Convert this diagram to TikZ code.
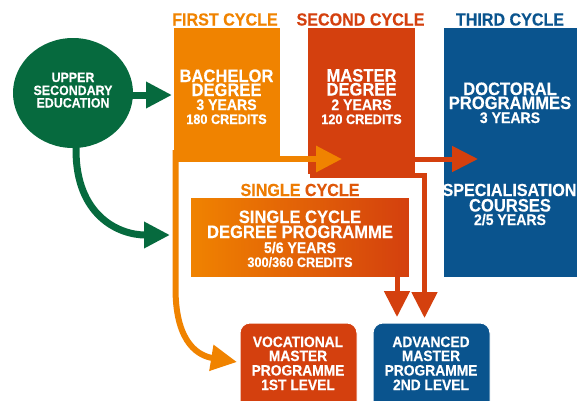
\documentclass[tikz,border=0pt]{standalone}
\usepackage{fontspec}
\setmainfont{Liberation Sans}[FakeStretch=0.92, BoldFeatures={FakeBold=0.3}]
\usetikzlibrary{arrows.meta,shapes.geometric}
\definecolor{ugreen}{RGB}{6,106,62}
\definecolor{uorange}{RGB}{240,131,0}
\definecolor{ured}{RGB}{212,64,14}
\definecolor{ublue}{RGB}{10,84,142}
\tikzset{
  box/.style={draw=white, line width=1pt, inner sep=0pt, outer sep=0pt, anchor=north west},
  wt/.style={text=white, anchor=base, inner sep=0pt},
  fbig/.style={wt, font=\fontsize{18}{18}\selectfont\bfseries},
  fmid/.style={wt, font=\fontsize{15.3}{15}\selectfont\bfseries},
  fsml/.style={wt, font=\fontsize{13.8}{14}\selectfont\bfseries},
  fcirc/.style={wt, font=\fontsize{13.5}{13}\selectfont\bfseries},
  fbot/.style={wt, font=\fontsize{15}{15}\selectfont\bfseries},
  head/.style={anchor=base, inner sep=0pt, font=\fontsize{17.5}{17}\selectfont\bfseries},
  bigtip/.style={-{Triangle[width=25pt,length=26pt]}},
  conn/.style={bigtip, line width=6pt},
  thin conn/.style={bigtip, line width=5pt, line join=miter},
}
\begin{document}
\begin{tikzpicture}[x=1pt,y=-1pt]
\useasboundingbox (0,0) rectangle (577,400);
\clip (0,0) rectangle (577,400);

% named coordinates for connector ends
\coordinate (gs1) at (73,95);
\coordinate (ge1) at (172,95);
\coordinate (gs2) at (76,130);
\coordinate (ge2) at (170,235);

% green connectors (under the circle)
\draw[conn, ugreen, line width=7pt] (gs1) -- (ge1);
\draw[conn, ugreen, line width=7pt] (gs2) -- (76,150) .. controls (76,215) and (118,235) .. (ge2);

% upper secondary education
\node[ellipse, fill=ugreen, minimum width=120pt, minimum height=110pt, inner sep=0pt] (use) at (73,93) {};
\node[fcirc] (useA) at (73,82) {UPPER};
\node[fcirc] (useB) at (73,95) {SECONDARY};
\node[fcirc] (useC) at (73,107.5) {EDUCATION};

% boxes
\node[box, fill=uorange, minimum width=107pt, minimum height=129pt] (bach) at (173,27) {};
\node[box, fill=ured, minimum width=108pt, minimum height=147pt] (mast) at (307,27) {};
\node[box, fill=ublue, minimum width=140pt, minimum height=250pt] (doct) at (443,27) {};
\node[box, left color=uorange, right color=ured, minimum width=219pt, minimum height=80pt] (sing) at (190,197) {};
\node[box, fill=ured, rounded corners=10pt, minimum width=117pt, minimum height=90pt] (voc) at (240,323) {};
\node[box, fill=ublue, rounded corners=10pt, minimum width=117pt, minimum height=90pt] (adv) at (373,323) {};

% orange connectors from the first cycle
\coordinate (os) at (175.5,150);
\coordinate (oe1) at (237,362);
\coordinate (oe2) at (342,159);
\draw[conn, uorange] (os) -- (175.5,290) .. controls (176,345) and (200,356) .. (oe1);
\draw[conn, uorange] (175.5,159) -- (oe2);

% red connectors
\coordinate (rs1) at (410,159);
\coordinate (re1) at (478,159);
\coordinate (rs2) at (310,175);
\coordinate (re2) at (424.5,318);
\coordinate (rs3) at (397,270);
\coordinate (re3) at (397,317);
\draw[thin conn, ured] (rs1) -- (re1);
\draw[thin conn, ured] (rs2) -- (424.5,175) -- (re2);
\draw[thin conn, ured] (rs3) -- (re3);

% headers
\node[head, text=uorange] (h1) at (225,25.5) {FIRST CYCLE};
\node[head, text=ured] (h2) at (360.5,25.5) {SECOND CYCLE};
\node[head, text=ublue] (h3) at (510,25.5) {THIRD CYCLE};
\node[head] (h4) at (300,196) {\textcolor{uorange!90!ured}{SINGLE} \textcolor{uorange!35!ured}{CYCLE}};

% bachelor
\node[fbig] (bA) at (226.5,82) {BACHELOR};
\node[fbig] (bB) at (226.5,96) {DEGREE};
\node[fmid] (bC) at (226.5,110) {3 YEARS};
\node[fsml] (bD) at (226.5,124) {180 CREDITS};

% master
\node[fbig] (mA) at (361.5,81.5) {MASTER};
\node[fbig] (mB) at (361.5,95.5) {DEGREE};
\node[fmid] (mC) at (361.5,110) {2 YEARS};
\node[fsml] (mD) at (361.5,124) {120 CREDITS};

% doctoral
\node[fbig] (dA) at (510,95) {DOCTORAL};
\node[fbig] (dB) at (510,109) {PROGRAMMES};
\node[fmid] (dC) at (510,123) {3 YEARS};
\node[wt, font=\fontsize{17.5}{18}\selectfont\bfseries] (sA) at (509.5,196) {SPECIALISATION};
\node[fbig] (sB) at (510,211.5) {COURSES};
\node[fmid] (sC) at (510,225) {2/5 YEARS};

% single cycle
\node[fbig] (cA) at (300,223) {SINGLE CYCLE};
\node[fbig] (cB) at (300,238) {DEGREE PROGRAMME};
\node[fmid] (cC) at (300,253) {5/6 YEARS};
\node[fsml] (cD) at (300,267) {300/360 CREDITS};

% vocational
\node[fbot] (vA) at (298,347) {VOCATIONAL};
\node[fbot] (vB) at (298,361) {MASTER};
\node[fbot] (vC) at (298,375.5) {PROGRAMME};
\node[fbot] (vD) at (298,390) {1ST LEVEL};

% advanced
\node[fbot] (aA) at (431,347) {ADVANCED};
\node[fbot] (aB) at (431,361) {MASTER};
\node[fbot] (aC) at (431,375.5) {PROGRAMME};
\node[fbot] (aD) at (431,390) {2ND LEVEL};
\end{tikzpicture}
\end{document}
